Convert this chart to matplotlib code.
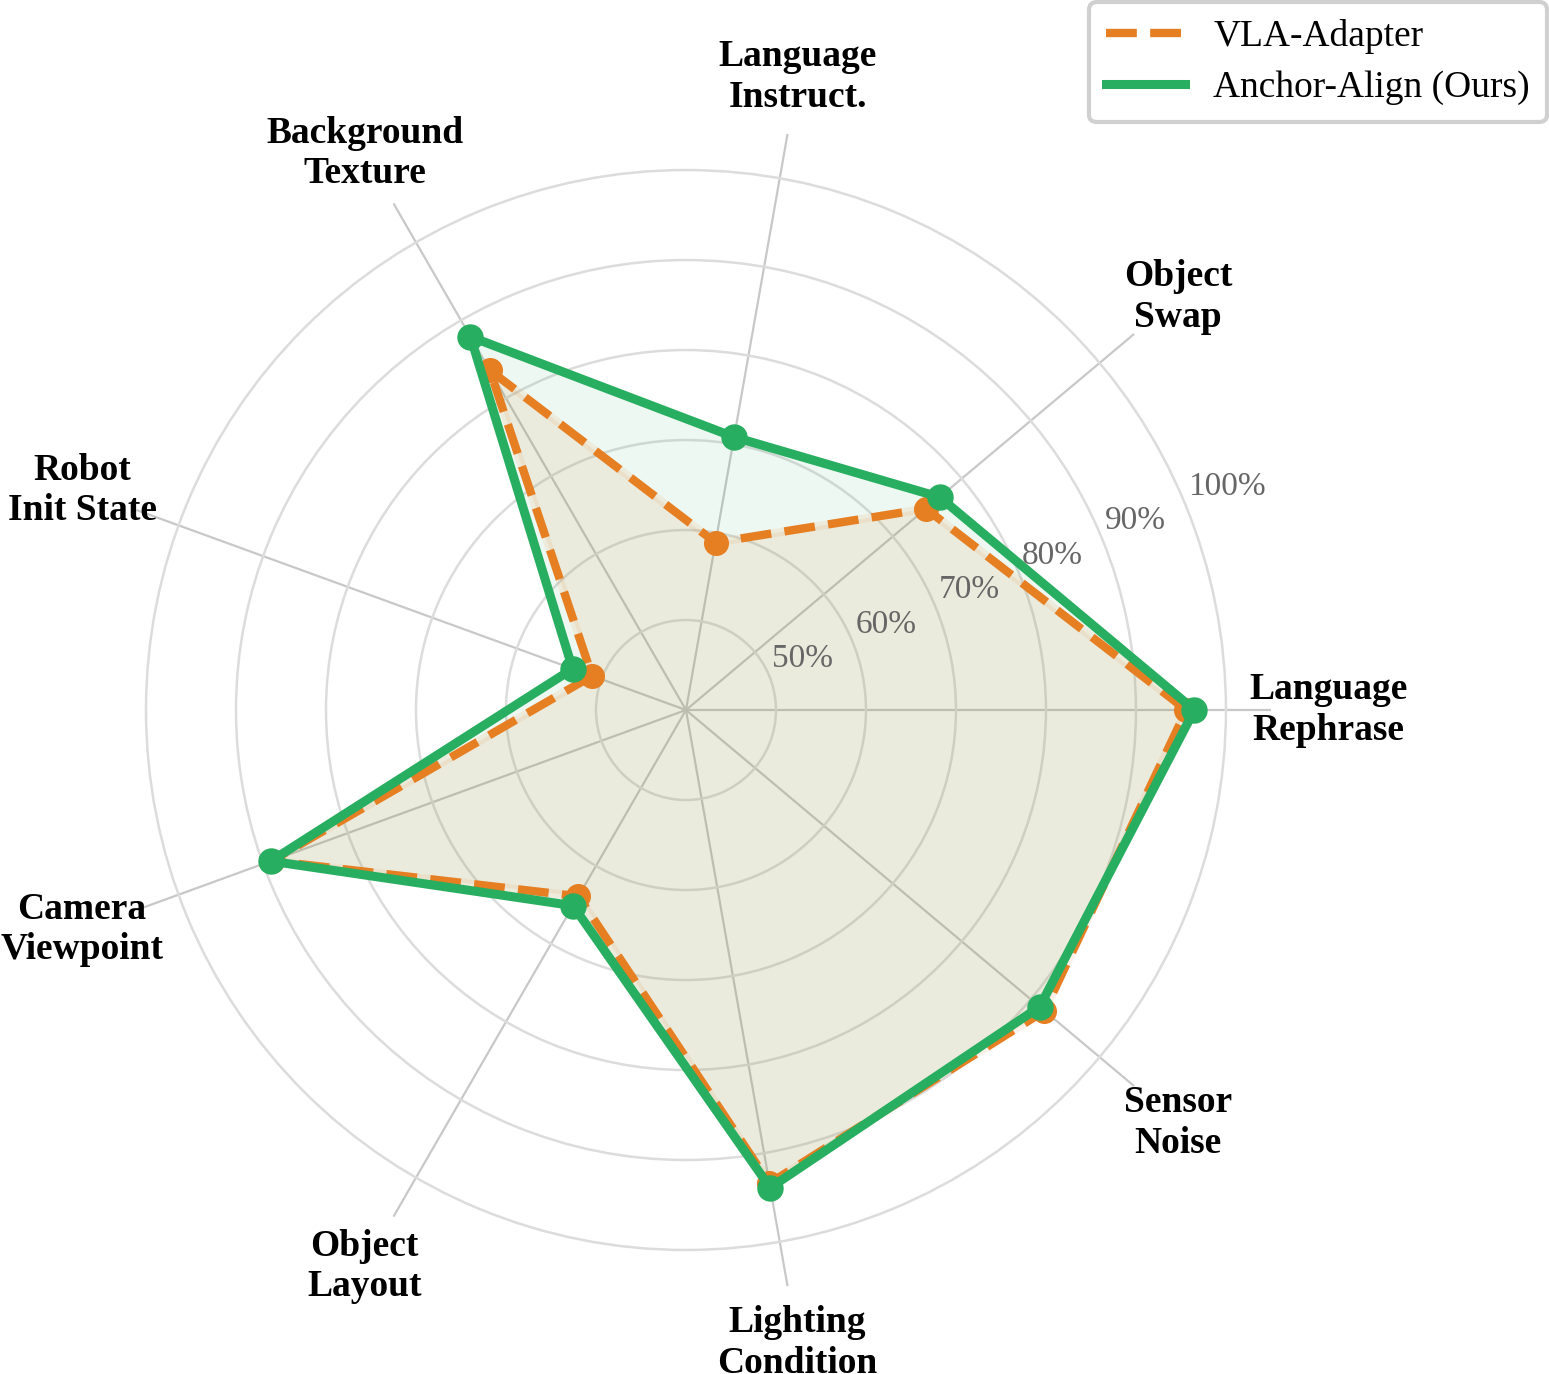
import numpy as np
import matplotlib
matplotlib.use("Agg")
import matplotlib.pyplot as plt
from matplotlib.lines import Line2D

categories = ["Language\nRephrase", "Object\nSwap", "Language\nInstruct.",
              "Background\nTexture", "Robot\nInit State", "Camera\nViewpoint",
              "Object\nLayout", "Lighting\nCondition", "Sensor\nNoise"]
vla_adapter = [95.6, 74.8, 58.9, 83.6, 51.1, 89.0, 63.9, 93.4, 92.0]
anchor_align = [96.5, 76.8, 70.8, 87.9, 53.4, 89.1, 65.1, 93.9, 91.3]
rticks = [50, 60, 70, 80, 90, 100]
rtick_labels = ["50%", "60%", "70%", "80%", "90%", "100%"]
series_names = ["VLA-Adapter", "Anchor-Align (Ours)"]

ORANGE = "#e67e22"
GREEN = "#27ae60"
SERIF = "Liberation Serif"

fig = plt.figure(figsize=(15.49, 13.74), dpi=100)
ax = fig.add_axes([0.0652, 0.0575, 0.7553, 0.8515], projection="polar")

n = len(categories)
angles = np.linspace(0, 2 * np.pi, n, endpoint=False)
ang_c = np.concatenate([angles, angles[:1]])
v1 = np.concatenate([vla_adapter, vla_adapter[:1]])
v2 = np.concatenate([anchor_align, anchor_align[:1]])

ax.set_ylim(40, 105)
ax.set_xticks(angles)
ax.set_xticklabels([])
ax.set_yticks(rticks)
ax.set_yticklabels([])
ax.spines["polar"].set_visible(False)
ax.xaxis.grid(True, color="#c8c8c8", lw=1.6)
ax.yaxis.grid(True, color="#dcdcdc", lw=1.8)
ax.tick_params(length=0)

# fills
ax.fill(ang_c, v1, color=ORANGE, alpha=0.10, zorder=2, lw=0)
ax.fill(ang_c, v2, color=GREEN, alpha=0.08, zorder=2, lw=0)

# orange series
ax.plot(ang_c, v1, color=ORANGE, alpha=0.10, lw=6, zorder=3)
ax.plot(ang_c, v1, color=ORANGE, lw=6, ls="--", zorder=4)
ax.plot(angles, vla_adapter, "o", color=ORANGE, ms=17, zorder=5)

# green series
ax.plot(ang_c, v2, color=GREEN, lw=6.5, zorder=6)
ax.plot(angles, anchor_align, "o", color=GREEN, ms=18, zorder=7)

# category labels
for a, lab in zip(angles, categories):
    ax.text(a, 111.4, lab, ha="center", va="center", fontsize=27,
            fontweight="bold", family=SERIF, linespacing=1.2, clip_on=False)

# radial tick labels
rl_ang = np.deg2rad(22.5)
for v, lab in zip(rticks, rtick_labels):
    ax.text(rl_ang, v + 0.4, lab, ha="left", va="bottom", fontsize=24,
            family=SERIF, color="#666666", zorder=8)

handles = [Line2D([], [], color=ORANGE, lw=6, ls="--"),
           Line2D([], [], color=GREEN, lw=6.5)]
leg = fig.legend(handles, series_names, loc="upper right",
                 bbox_to_anchor=(0.9985, 0.9985), borderaxespad=0,
                 prop={"family": SERIF, "size": 27},
                 frameon=True, fancybox=True, handlelength=2.1,
                 handletextpad=0.75, borderpad=0.45, labelspacing=0.45)
leg.get_frame().set_edgecolor("#d0d0d0")
leg.get_frame().set_linewidth(3)
leg.get_frame().set_alpha(1)

fig.savefig("out.png", dpi=100, facecolor="white")
